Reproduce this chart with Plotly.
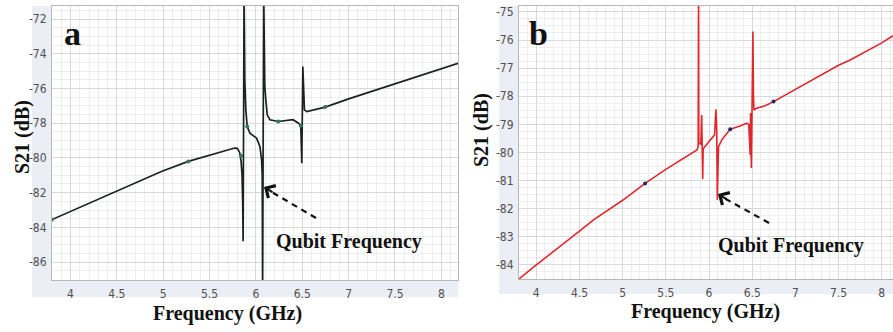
import plotly.graph_objects as go

W, H = 893, 332

# ---------------- data ----------------
freq_a = [3.80, 4.00, 4.50, 4.98, 5.27, 5.50, 5.70, 5.77, 5.80, 5.825, 5.84, 5.85, 5.857, 5.862,
          5.872, 5.880, 5.891, 5.906, 5.935, 5.970, 6.007, 6.043, 6.061, 6.068, 6.072,
          6.084, 6.095, 6.107, 6.122, 6.150, 6.240, 6.400, 6.460, 6.484, 6.495,
          6.506, 6.515, 6.523, 6.549, 6.657, 6.747, 7.00, 7.58, 8.00, 8.18]
s21_a = [-83.55, -83.08, -81.90, -80.78, -80.20, -79.85, -79.55, -79.43, -79.45, -79.70, -80.20, -81.00, -82.50, -84.80,
         -70.50, -75.50, -77.23, -78.19, -78.57, -78.72, -78.86, -79.34, -80.10, -81.00, -88.00,
         -70.50, -75.80, -76.66, -77.52, -77.80, -77.90, -77.80, -78.00, -78.15, -80.30,
         -74.74, -76.90, -77.23, -77.33, -77.19, -77.07, -76.60, -75.60, -74.90, -74.55]
mark_fa = [3.80, 5.27, 5.84, 5.906, 6.24, 6.484, 6.747]
mark_sa = [-83.55, -80.20, -79.87, -78.19, -77.90, -78.15, -77.07]

freq_b = [3.80, 4.00, 4.50, 4.663, 5.00, 5.26, 5.50, 5.725, 5.86, 5.874, 5.879, 5.882, 5.905, 5.915,
          5.921, 5.927, 5.932, 5.937, 6.014, 6.064, 6.080, 6.089, 6.096, 6.103, 6.110, 6.148, 6.245,
          6.360, 6.437, 6.460, 6.477, 6.481, 6.485, 6.490, 6.495, 6.508, 6.514, 6.520, 6.550,
          6.650, 6.747, 7.00, 7.50, 7.634, 8.00, 8.13]
s21_b = [-84.50, -84.00, -82.80, -82.40, -81.70, -81.10, -80.60, -80.15, -79.91, -79.80, -74.00, -79.67, -79.70, -78.67,
         -79.80, -80.94, -79.90, -79.85, -79.56, -79.38, -78.46, -79.20, -81.69, -80.30, -79.79, -79.55, -79.17,
         -79.06, -78.96, -79.00, -80.09, -78.60, -79.40, -80.55, -79.30, -75.70, -77.90, -78.49, -78.43,
         -78.34, -78.19, -77.75, -76.90, -76.71, -76.10, -75.85]
mark_fb = [5.26, 6.245, 6.747]
mark_sb = [-81.10, -79.17, -78.19]

yticks_a = [-72, -74, -76, -78, -80, -82, -84, -86]
yticks_b = [-75, -76, -77, -78, -79, -80, -81, -82, -83, -84]
xticks = [4, 4.5, 5, 5.5, 6, 6.5, 7, 7.5, 8]

# ---------------- layout helpers ----------------
def px(x):
    return x / W

def py(y):
    return 1 - y / H

fig = go.Figure()
fig.add_trace(go.Scatter(x=freq_a, y=s21_a, mode="lines", line=dict(color="#1b2320", width=1.7),
                         xaxis="x", yaxis="y", showlegend=False))
fig.add_trace(go.Scatter(x=mark_fa, y=mark_sa, mode="markers", marker=dict(color="#2f7a5a", size=4),
                         xaxis="x", yaxis="y", showlegend=False))
fig.add_trace(go.Scatter(x=freq_b, y=s21_b, mode="lines", line=dict(color="#e0282c", width=1.6),
                         xaxis="x2", yaxis="y2", showlegend=False))
fig.add_trace(go.Scatter(x=mark_fb, y=mark_sb, mode="markers", marker=dict(color="#1f2a6e", size=4),
                         xaxis="x2", yaxis="y2", showlegend=False))

tickfont = dict(family="DejaVu Sans Condensed, DejaVu Sans", size=12, color="#505050")
grid_major = "#d9d9d9"
grid_minor = "#eeeeee"
frame = "#b8b8b8"

def xax(domain, rng, anchor):
    return dict(domain=domain, range=rng, anchor=anchor, tickvals=xticks,
                ticktext=[f"{v:g}" for v in xticks], tickfont=tickfont,
                showgrid=True, gridcolor=grid_major, gridwidth=1,
                minor=dict(dtick=0.1, showgrid=True, gridcolor=grid_minor, gridwidth=1),
                showline=True, linecolor=frame, linewidth=1, mirror=True,
                ticks="", zeroline=False, ticklabelstandoff=3)

def yax(domain, rng, anchor, ticks, minor_dt):
    return dict(domain=domain, range=rng, anchor=anchor, tickvals=ticks,
                ticktext=[f"{v:g}" for v in ticks], tickfont=tickfont,
                showgrid=True, gridcolor=grid_major, gridwidth=1,
                minor=dict(dtick=minor_dt, tick0=0, showgrid=True, gridcolor=grid_minor, gridwidth=1),
                showline=True, linecolor=frame, linewidth=1, mirror=True,
                ticks="", zeroline=False, ticklabelstandoff=2)

fig.update_layout(
    width=W, height=H, margin=dict(l=0, r=0, t=0, b=0),
    paper_bgcolor="white", plot_bgcolor="white",
    xaxis=xax([px(52), px(458)], [3.80, 8.18], "y"),
    yaxis=yax([py(280), py(6)], [-87.03, -71.25], "x", yticks_a, 0.5),
    xaxis2=xax([px(519), px(893)], [3.80, 8.13], "y2"),
    yaxis2=yax([py(279), py(6)], [-84.50, -74.79], "x2", yticks_b, 0.25),
)

band = "#eceef6"
shapes = []
for (x0, y0, x1, y1) in [(32, 6, 52, 297), (32, 280, 458, 297), (499, 6, 519, 294), (499, 279, 893, 294)]:
    shapes.append(dict(type="rect", xref="paper", yref="paper", x0=px(x0), x1=px(x1),
                       y0=py(y1), y1=py(y0), fillcolor=band, line=dict(width=0), layer="below"))
# dashed arrow shafts
for (x0, y0, x1, y1) in [(316, 218, 270, 191), (769, 223, 724, 198)]:
    shapes.append(dict(type="line", xref="paper", yref="paper", x0=px(x0), y0=py(y0),
                       x1=px(x1), y1=py(y1), line=dict(color="#111111", width=2.2, dash="6px,5px")))
fig.update_layout(shapes=shapes)

serif = "Liberation Serif, Times New Roman, serif"
ann = []
def text(x, y, s, size, angle=0):
    ann.append(dict(xref="paper", yref="paper", x=px(x), y=py(y), text=s, showarrow=False,
                    xanchor="center", yanchor="middle", textangle=angle,
                    font=dict(family=serif, size=size, color="#111111")))

text(22, 137, "<b>S21 (dB)</b>", 20, -90)
text(481, 130, "<b>S21 (dB)</b>", 20, -90)
text(228, 313, "<b>Frequency (GHz)</b>", 20)
text(705, 311, "<b>Frequency (GHz)</b>", 20)
text(72, 33, "<b>a</b>", 34)
text(538, 34, "<b>b</b>", 34)
text(349, 241, "<b>Qubit Frequency</b>", 20)
text(791, 245, "<b>Qubit Frequency</b>", 20)

# arrow heads
for (hx, hy, tx, ty) in [(264, 187, 274, 193), (718, 194, 728, 200)]:
    ann.append(dict(xref="paper", yref="paper", x=px(hx), y=py(hy), ax=tx - hx, ay=ty - hy,
                    axref="pixel", ayref="pixel", showarrow=True, arrowhead=4, arrowsize=1.4,
                    arrowwidth=2, arrowcolor="#111111", text=""))
fig.update_layout(annotations=ann)

fig.write_html("out.html", config={"displayModeBar": False},
               post_script="document.body.style.margin='0';document.body.style.overflow='hidden';")
